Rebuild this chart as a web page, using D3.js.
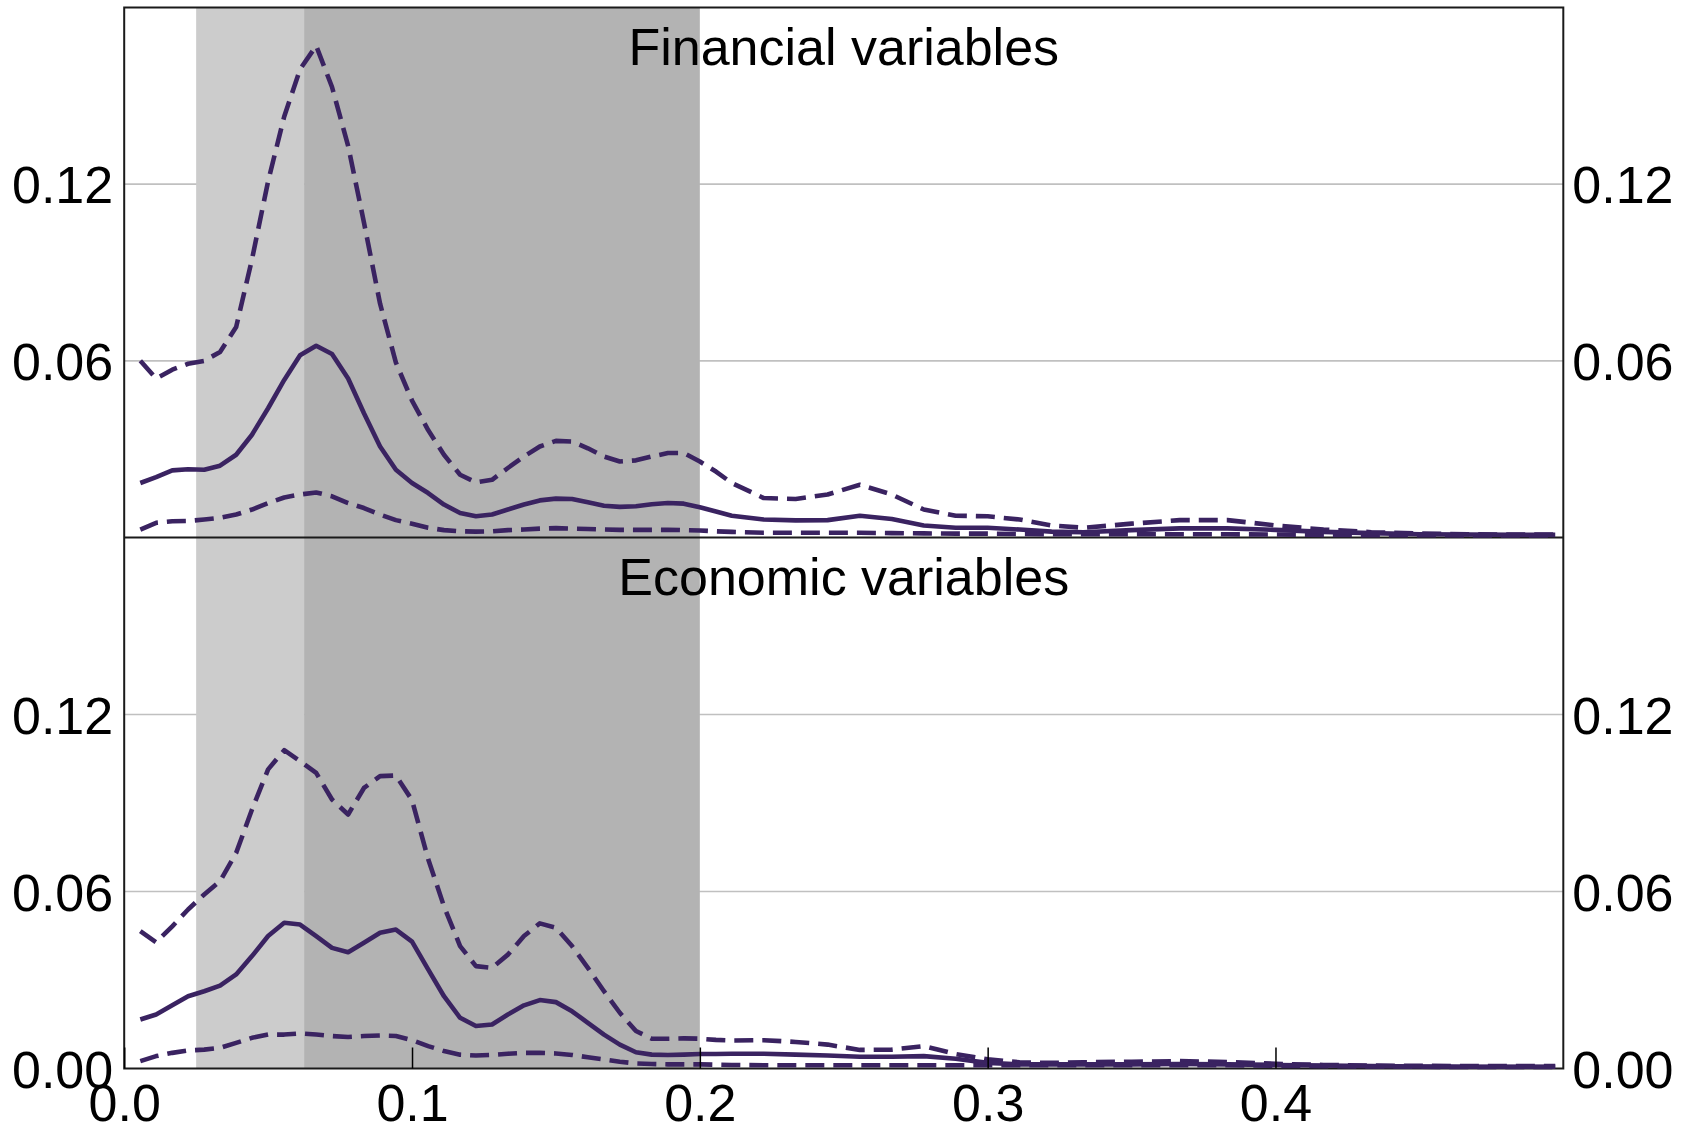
<!DOCTYPE html>
<html>
<head>
<meta charset="utf-8">
<script src="https://cdn.jsdelivr.net/npm/d3@7"></script>
<style>
	html, body { margin: 0; padding: 0; background: #fff; }
	text { font-family: "Liberation Sans", Arial, sans-serif; }
</style>
</head>
<body>
<script>
// frequency grid (cycles per period)
const freq = [0.0056, 0.0111, 0.0167, 0.0222, 0.0278, 0.0333, 0.0389, 0.0444, 0.05, 0.0556,
	0.0611, 0.0667, 0.0722, 0.0778, 0.0833, 0.0889, 0.0944, 0.1, 0.1056, 0.1111,
	0.1167, 0.1222, 0.1278, 0.1333, 0.1389, 0.1444, 0.15, 0.1556, 0.1611, 0.1667,
	0.1722, 0.1778, 0.1833, 0.1889, 0.1944, 0.2, 0.2056, 0.2111, 0.2222, 0.2333,
	0.2444, 0.2556, 0.2667, 0.2778, 0.2889, 0.3, 0.3111, 0.3222, 0.3333, 0.35,
	0.3667, 0.3833, 0.4, 0.4167, 0.4333, 0.45, 0.4667, 0.4833, 0.4972];

// Financial variables
const finHigh = [0.060, 0.054, 0.057, 0.059, 0.060, 0.063, 0.0715, 0.0945, 0.121, 0.143,
	0.159, 0.167, 0.153, 0.133, 0.107, 0.0794, 0.0594, 0.0465, 0.0365, 0.0281,
	0.0213, 0.0187, 0.0196, 0.0236, 0.0275, 0.0309, 0.0328, 0.0326, 0.0303, 0.0275,
	0.0258, 0.0262, 0.0275, 0.0287, 0.0287, 0.0258, 0.0224, 0.0185, 0.0134, 0.0131,
	0.0146, 0.0179, 0.0146, 0.0095, 0.0074, 0.0072, 0.0061, 0.0041, 0.0033, 0.0047,
	0.0059, 0.0059, 0.0041, 0.0027, 0.0018, 0.0014, 0.0011, 0.001, 0.001];
const finMed = [0.0185, 0.0205, 0.0228, 0.0232, 0.023, 0.0244, 0.0281, 0.0349, 0.0439, 0.0535,
	0.0619, 0.0651, 0.0623, 0.054, 0.0422, 0.0309, 0.023, 0.0185, 0.0151, 0.0112,
	0.0083, 0.0072, 0.0078, 0.0095, 0.0112, 0.0126, 0.0132, 0.0131, 0.012, 0.0108,
	0.0104, 0.0106, 0.0113, 0.0117, 0.0115, 0.0103, 0.0088, 0.0074, 0.0061, 0.0058,
	0.0059, 0.0074, 0.0063, 0.0041, 0.0033, 0.0033, 0.0027, 0.002, 0.0018, 0.0025,
	0.0031, 0.0031, 0.0026, 0.0019, 0.0015, 0.0011, 0.001, 0.0009, 0.0009];
const finLow = [0.0027, 0.005, 0.0055, 0.0056, 0.0061, 0.0067, 0.0078, 0.0095, 0.0117, 0.0136,
	0.0146, 0.0153, 0.014, 0.0117, 0.01, 0.0078, 0.0059, 0.0047, 0.0033, 0.0025,
	0.0021, 0.002, 0.0021, 0.0025, 0.0027, 0.003, 0.0032, 0.003, 0.0029, 0.0027,
	0.0026, 0.0026, 0.0026, 0.0026, 0.0025, 0.0024, 0.0021, 0.0019, 0.0016, 0.0016,
	0.0016, 0.0016, 0.0015, 0.0014, 0.0013, 0.0013, 0.0012, 0.0011, 0.0011, 0.0011,
	0.0011, 0.0011, 0.001, 0.0009, 0.0008, 0.0008, 0.0007, 0.0007, 0.0007];

// Economic variables
const ecoHigh = [0.0466, 0.0428, 0.0482, 0.0539, 0.059, 0.0635, 0.0731, 0.0878, 0.1014, 0.1079,
	0.1042, 0.1002, 0.0912, 0.0861, 0.0951, 0.0991, 0.0993, 0.091, 0.071, 0.055,
	0.0415, 0.0347, 0.0341, 0.0386, 0.0449, 0.0492, 0.0477, 0.0415, 0.0341, 0.0262,
	0.0189, 0.0127, 0.0101, 0.0101, 0.0102, 0.0101, 0.0097, 0.0095, 0.0096, 0.009,
	0.0081, 0.0063, 0.0064, 0.0076, 0.0049, 0.0031, 0.0021, 0.0019, 0.0021, 0.0023,
	0.0025, 0.0022, 0.0016, 0.0012, 0.001, 0.0009, 0.0008, 0.0008, 0.0008];
const ecoMed = [0.0166, 0.0183, 0.0214, 0.0245, 0.0262, 0.0281, 0.0319, 0.0381, 0.0449, 0.0494,
	0.0488, 0.0449, 0.0409, 0.0394, 0.0426, 0.046, 0.0471, 0.043, 0.0336, 0.0245,
	0.0172, 0.0144, 0.0149, 0.0183, 0.0214, 0.0232, 0.0225, 0.0194, 0.0155, 0.0115,
	0.0081, 0.0055, 0.0047, 0.0046, 0.0047, 0.0049, 0.0049, 0.005, 0.005, 0.0047,
	0.0044, 0.004, 0.004, 0.0042, 0.0033, 0.0019, 0.0014, 0.0014, 0.0014, 0.0014,
	0.0015, 0.0014, 0.0012, 0.001, 0.0008, 0.0007, 0.0006, 0.0006, 0.0006];
const ecoLow = [0.0025, 0.0042, 0.0053, 0.0061, 0.0064, 0.007, 0.0087, 0.0104, 0.0115, 0.0115,
	0.0119, 0.0115, 0.011, 0.0107, 0.011, 0.0112, 0.011, 0.0096, 0.0076, 0.0059,
	0.0047, 0.0044, 0.0046, 0.005, 0.0053, 0.0053, 0.0051, 0.0046, 0.0038, 0.0031,
	0.0023, 0.0017, 0.0015, 0.0014, 0.0014, 0.0014, 0.0013, 0.0012, 0.0011, 0.0011,
	0.0011, 0.0011, 0.0011, 0.0011, 0.0011, 0.0011, 0.0011, 0.0011, 0.0011, 0.0011,
	0.0011, 0.0011, 0.0009, 0.0008, 0.0007, 0.0006, 0.0005, 0.0005, 0.0005];

// shaded frequency bands
const bands = [[0.025, 0.0625, "#cccccc"], [0.0625, 0.2, "#b3b3b3"]];
const yTicks = [0.06, 0.12];
const xTicks = [0, 0.1, 0.2, 0.3, 0.4];
const titles = ["Financial variables", "Economic variables"];

const width = 1694, height = 1130;
const pLeft = 124.2, pRight = 1563.3, pTop = 7.5, pMid = 537.5, pBottom = 1068.5;
const lineColor = "#3a2361";
const fontSize = 52;

const x = d3.scaleLinear().domain([0, 0.5]).range([pLeft, pRight]);
const yTop = d3.scaleLinear().domain([0, 0.18]).range([pMid, pTop]);
const yBot = d3.scaleLinear().domain([0, 0.18]).range([pBottom, pMid]);

const svg = d3.select("body").append("svg")
	.attr("width", width)
	.attr("height", height);

svg.append("rect").attr("width", width).attr("height", height).attr("fill", "#fff");

const panels = [
	{ y: yTop, title: titles[0], high: finHigh, med: finMed, low: finLow, ticks: yTicks },
	{ y: yBot, title: titles[1], high: ecoHigh, med: ecoMed, low: ecoLow, ticks: [0, ...yTicks] }
];

// gridlines
panels.forEach(p => {
	svg.append("g")
		.selectAll("line")
		.data(yTicks)
		.join("line")
		.attr("x1", pLeft).attr("x2", pRight)
		.attr("y1", d => p.y(d)).attr("y2", d => p.y(d))
		.attr("stroke", "#c0c0c0")
		.attr("stroke-width", 1.6);
});

// shaded bands, cover both panels
svg.append("g")
	.selectAll("rect")
	.data(bands)
	.join("rect")
	.attr("x", d => x(d[0]))
	.attr("width", d => x(d[1]) - x(d[0]))
	.attr("y", pTop)
	.attr("height", pBottom - pTop)
	.attr("fill", d => d[2]);

// frame
svg.append("rect")
	.attr("x", pLeft).attr("y", pTop)
	.attr("width", pRight - pLeft).attr("height", pBottom - pTop)
	.attr("fill", "none").attr("stroke", "#1a1a1a").attr("stroke-width", 2);
svg.append("line")
	.attr("x1", pLeft).attr("x2", pRight).attr("y1", pMid).attr("y2", pMid)
	.attr("stroke", "#1a1a1a").attr("stroke-width", 2);

panels.forEach(p => {
	const line = d3.line()
		.x((d, i) => x(freq[i]))
		.y(d => p.y(d));

	const g = svg.append("g")
		.attr("fill", "none")
		.attr("stroke", lineColor)
		.attr("stroke-width", 4.6)
		.attr("stroke-linejoin", "round");

	g.append("path").attr("d", line(p.high)).attr("stroke-dasharray", "19,9");
	g.append("path").attr("d", line(p.low)).attr("stroke-dasharray", "19,9");
	g.append("path").attr("d", line(p.med));

	// y labels both sides
	const axL = svg.append("g")
		.attr("transform", `translate(${pLeft},0)`)
		.call(d3.axisLeft(p.y).tickValues(p.ticks).tickFormat(d3.format(".2f")).tickSize(0).tickPadding(11));
	const axR = svg.append("g")
		.attr("transform", `translate(${pRight},0)`)
		.call(d3.axisRight(p.y).tickValues(p.ticks).tickFormat(d3.format(".2f")).tickSize(0).tickPadding(9));
	[axL, axR].forEach(a => {
		a.select(".domain").remove();
		a.selectAll("text")
			.attr("font-size", fontSize)
			.attr("font-family", "Liberation Sans, Arial, sans-serif")
			.attr("fill", "#000")
			.attr("dy", "0.36em");
	});

	// panel title
	svg.append("text")
		.attr("x", (pLeft + pRight) / 2)
		.attr("y", p.y(0.18) + 57.5)
		.attr("text-anchor", "middle")
		.attr("font-size", fontSize)
		.attr("fill", "#000")
		.text(p.title);
});

// x axis with inward ticks
const xAxis = svg.append("g")
	.attr("transform", `translate(0,${pBottom})`)
	.call(d3.axisBottom(x).tickValues(xTicks).tickFormat(d3.format(".1f"))
		.tickSizeInner(-21).tickSizeOuter(0).tickPadding(16));
xAxis.select(".domain").remove();
xAxis.selectAll(".tick line").attr("stroke", "#000").attr("stroke-width", 1.5);
xAxis.selectAll("text")
	.attr("font-size", fontSize)
	.attr("font-family", "Liberation Sans, Arial, sans-serif")
	.attr("fill", "#000");
</script>
</body>
</html>
